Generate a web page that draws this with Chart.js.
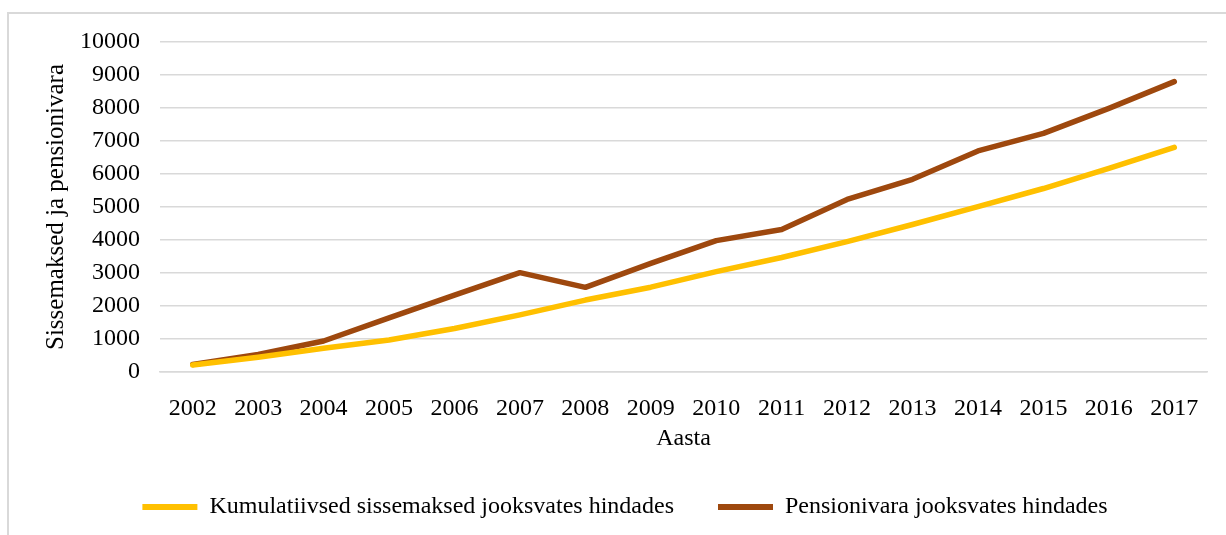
<!doctype html>
<html lang="et">
  <head>
    <meta charset="UTF-8" />
    <title>Sissemaksed ja pensionivara</title>
    <script src="https://cdn.jsdelivr.net/npm/chart.js"></script>
    <style>
      html,
      body {
        margin: 0;
        padding: 0;
        background: #fff;
        overflow: hidden;
      }
      .frame {
        position: absolute;
        left: 7px;
        top: 12px;
        width: 1260px;
        height: 600px;
        border: 2px solid #d9d9d9;
        box-sizing: border-box;
      }
      .chart-container {
        position: absolute;
        left: 0;
        top: 0;
        width: 1226px;
        height: 535px;
      }
    </style>
  </head>
  <body>
    <div class="frame"></div>
    <div class="chart-container">
      <canvas id="pensionChart"></canvas>
    </div>

    <script>
      const years = [
        "2002", "2003", "2004", "2005", "2006", "2007", "2008", "2009",
        "2010", "2011", "2012", "2013", "2014", "2015", "2016", "2017",
      ];
      // kumulatiivsed sissemaksed
      const contributions = [
        210, 450, 720, 970, 1320, 1730, 2180, 2570,
        3040, 3470, 3950, 4470, 5010, 5560, 6170, 6810,
      ];
      // pensionivara
      const assets = [
        230, 530, 940, 1640, 2330, 3010, 2565, 3290,
        3980, 4320, 5230, 5840, 6700, 7230, 7990, 8800,
      ];
      const yTicks = { min: 0, max: 10000, step: 1000 };

      const serif = "'Liberation Serif', 'Times New Roman', serif";
      const gridGrey = "#d9d9d9";

      const ctx = document.getElementById("pensionChart").getContext("2d");
      const chart = new Chart(ctx, {
        type: "line",
        data: {
          labels: years,
          datasets: [
            {
              label: "Kumulatiivsed sissemaksed jooksvates hindades",
              data: contributions,
              borderColor: "#ffc000",
              backgroundColor: "#ffc000",
              borderWidth: 5.5,
              borderCapStyle: "round",
              borderJoinStyle: "round",
              pointRadius: 0,
              tension: 0,
            },
            {
              label: "Pensionivara jooksvates hindades",
              data: assets,
              borderColor: "#9e480e",
              backgroundColor: "#9e480e",
              borderWidth: 5.5,
              borderCapStyle: "round",
              borderJoinStyle: "round",
              pointRadius: 0,
              tension: 0,
            },
          ],
        },
        options: {
          responsive: true,
          maintainAspectRatio: false,
          animation: false,
          layout: {
            padding: { left: 43, right: 19, top: 42, bottom: 6 },
          },
          plugins: {
            tooltip: { enabled: false },
            legend: {
              position: "bottom",
              labels: {
                usePointStyle: true,
                pointStyle: "line",
                pointStyleWidth: 55,
                padding: 44,
                color: "#000",
                font: { family: serif, size: 24 },
                // slightly heavier sample line than the default
                generateLabels: (c) =>
                  Chart.defaults.plugins.legend.labels
                    .generateLabels(c)
                    .map((item) => ({ ...item, lineWidth: 6 })),
              },
            },
          },
          scales: {
            x: {
              offset: true,
              grid: { display: false },
              border: { color: gridGrey, width: 1.5 },
              ticks: {
                color: "#000",
                padding: 14,
                maxRotation: 0,
                autoSkip: false,
                font: { family: serif, size: 24 },
              },
              title: {
                display: true,
                text: "Aasta",
                color: "#000",
                padding: { top: 0, bottom: 0 },
                font: { family: serif, size: 24, lineHeight: 1 },
              },
              afterFit: (scale) => {
                scale.height = 79;
              },
            },
            y: {
              min: yTicks.min,
              max: yTicks.max,
              border: { display: false },
              grid: { color: gridGrey, lineWidth: 1.5, drawTicks: false },
              ticks: {
                stepSize: yTicks.step,
                color: "#000",
                padding: 20,
                font: { family: serif, size: 24 },
                callback: (v) => String(v),
              },
              title: {
                display: true,
                text: "Sissemaksed ja pensionivara",
                color: "#000",
                padding: { top: 0.5, bottom: 0 },
                font: { family: serif, size: 25, lineHeight: 1 },
              },
              afterFit: (scale) => {
                scale.width = 117;
              },
            },
          },
        },
      });
    </script>
  </body>
</html>
